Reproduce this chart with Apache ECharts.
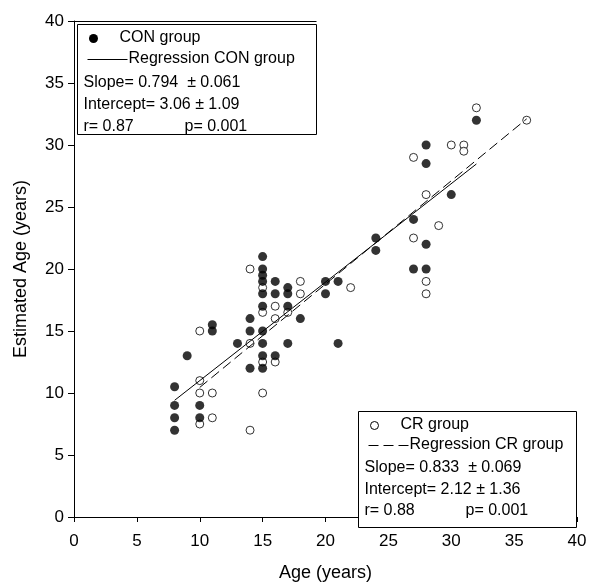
<!DOCTYPE html>
<html>
<head>
<meta charset="utf-8">
<script src="https://cdn.jsdelivr.net/npm/echarts@6/dist/echarts.min.js"></script>
<style>
html,body{margin:0;padding:0;background:#fff;}
#chart{width:592px;height:587px;}
</style>
</head>
<body>
<div id="chart"></div>
<script>
// CON group (filled circles): [age, estimated age]
var conPoints = [
  [8,10.5],[8,9],[8,8],[8,7],
  [9,13],
  [10,9],[10,8],
  [11,15.5],[11,15],
  [13,14],
  [14,16],[14,15],[14,12],
  [15,21],[15,20],[15,19.5],[15,19],[15,18],[15,17],[15,15],[15,14],[15,13],[15,12],
  [16,19],[16,18],[16,13],
  [17,18.5],[17,18],[17,17],[17,14],
  [18,16],
  [20,19],[20,18],
  [21,19],[21,14],
  [24,22.5],[24,21.5],
  [27,24],[27,20],
  [28,30],[28,28.5],[28,22],[28,20],
  [30,26],
  [32,32]
];
// CR group (open circles)
var crPoints = [
  [10,15],[10,11],[10,10],[10,7.5],
  [11,10],[11,8],
  [14,20],[14,14],[14,7],
  [15,18.5],[15,16.5],[15,12.5],[15,10],
  [16,17],[16,16],[16,12.5],
  [17,16.5],
  [18,19],[18,18],
  [22,18.5],
  [27,29],[27,22.5],
  [28,26],[28,19],[28,18],
  [29,23.5],
  [30,30],
  [31,30],[31,29.5],
  [32,33],
  [36,32]
];
// Regression line end points
var conRegression = [[8,9.41],[32,28.47]];
var crRegression = [[10,10.45],[36,32.11]];
// Axis ticks
var xTicks = {min:0, max:40, interval:5};
var yTicks = {min:0, max:40, interval:5};
// Legend texts
var conLegend = ["CON group","Regression CON group","Slope= 0.794  \u00b1 0.061","Intercept= 3.06 \u00b1 1.09","r= 0.87","p= 0.001"];
var crLegend = ["CR group","Regression CR group","Slope= 0.833  \u00b1 0.069","Intercept= 2.12 \u00b1 1.36","r= 0.88","p= 0.001"];

var FONT = "'Liberation Sans', Arial, sans-serif";
var chart = echarts.init(document.getElementById('chart'), null, {renderer:'canvas'});

function txt(x, y, s) {
  return {type:'text', left:x, top:y - 9, z:100,
    style:{text:s, fontSize:16, fontFamily:FONT, fill:'#000'}};
}
function legendBox(x0, y0, x1, y1, items, isCon) {
  var g = [];
  g.push({type:'rect', z:90, shape:{x:x0, y:y0, width:x1 - x0, height:y1 - y0},
    style:{fill:'#fff', stroke:'#000', lineWidth:1}});
  if (isCon) {
    g.push({type:'line', z:91, shape:{x1:74, y1:21.5, x2:x1, y2:21.5}, style:{stroke:'#000', lineWidth:1}});
    g.push({type:'circle', z:100, shape:{cx:x0 + 16, cy:y0 + 14, r:4.5}, style:{fill:'#000'}});
    g.push({type:'line', z:100, shape:{x1:x0 + 10, y1:y0 + 35, x2:x0 + 50, y2:y0 + 35}, style:{stroke:'#000', lineWidth:1}});
  } else {
    g.push({type:'circle', z:100, shape:{cx:x0 + 16, cy:y0 + 14, r:4}, style:{fill:'#fff', stroke:'#000', lineWidth:1}});
    g.push({type:'line', z:100, shape:{x1:x0 + 10, y1:y0 + 34, x2:x0 + 50, y2:y0 + 34}, style:{stroke:'#000', lineWidth:1, lineDash:[10,5]}});
  }
  var ys = isCon ? [y0 + 14, y0 + 35, y0 + 59, y0 + 81, y0 + 103] : [y0 + 14, y0 + 34, y0 + 57, y0 + 79, y0 + 100];
  g.push(txt(x0 + 42, ys[0], items[0]));
  g.push(txt(x0 + 51, ys[1], items[1]));
  g.push(txt(x0 + 6, ys[2], items[2]));
  g.push(txt(x0 + 6, ys[3], items[3]));
  g.push(txt(x0 + 6, ys[4], items[4]));
  g.push(txt(x0 + 107, ys[4], items[5]));
  return g;
}

var graphics = [].concat(
  legendBox(77.5, 24.5, 316.5, 134.5, conLegend, true),
  legendBox(358.5, 411.5, 576.5, 527.5, crLegend, false)
);

var option = {
  animation: false,
  backgroundColor: '#fff',
  grid: {left:74, top:21, width:503, height:506, containLabel:false},
  xAxis: {
    type:'value', min:xTicks.min, max:xTicks.max, interval:xTicks.interval,
    name:'Age (years)', nameLocation:'middle', nameGap:47,
    nameTextStyle:{fontSize:18, fontFamily:FONT, color:'#000'},
    axisLine:{show:true, lineStyle:{color:'#000', width:1}},
    axisTick:{show:true, inside:false, length:5, lineStyle:{color:'#000'}},
    axisLabel:{fontSize:17, fontFamily:FONT, color:'#000', margin:16},
    splitLine:{show:false}
  },
  yAxis: {
    type:'value', min:yTicks.min, max:yTicks.max, interval:yTicks.interval,
    name:'Estimated Age (years)', nameLocation:'middle', nameGap:44,
    nameTextStyle:{fontSize:18, fontFamily:FONT, color:'#000'},
    axisLine:{show:true, lineStyle:{color:'#000', width:1}},
    axisTick:{show:true, inside:false, length:6, lineStyle:{color:'#000'}},
    axisLabel:{fontSize:17, fontFamily:FONT, color:'#000', margin:10},
    splitLine:{show:false}
  },
  series: [
    {type:'scatter', name:'CR group', data:crPoints, symbol:'circle', symbolSize:8, z:3,
      itemStyle:{color:'#fff', borderColor:'#000', borderWidth:1}},
    {type:'scatter', name:'CON group', data:conPoints, symbol:'circle', symbolSize:9, z:4,
      itemStyle:{color:'#000'}},
    {type:'line', name:'Regression CON group', data:conRegression, symbol:'none', z:5,
      lineStyle:{color:'#000', width:1, type:'solid'}},
    {type:'line', name:'Regression CR group', data:crRegression, symbol:'none', z:5,
      lineStyle:{color:'#000', width:1, type:[10,5]}}
  ],
  graphic: graphics
};
chart.setOption(option);
</script>
</body>
</html>
